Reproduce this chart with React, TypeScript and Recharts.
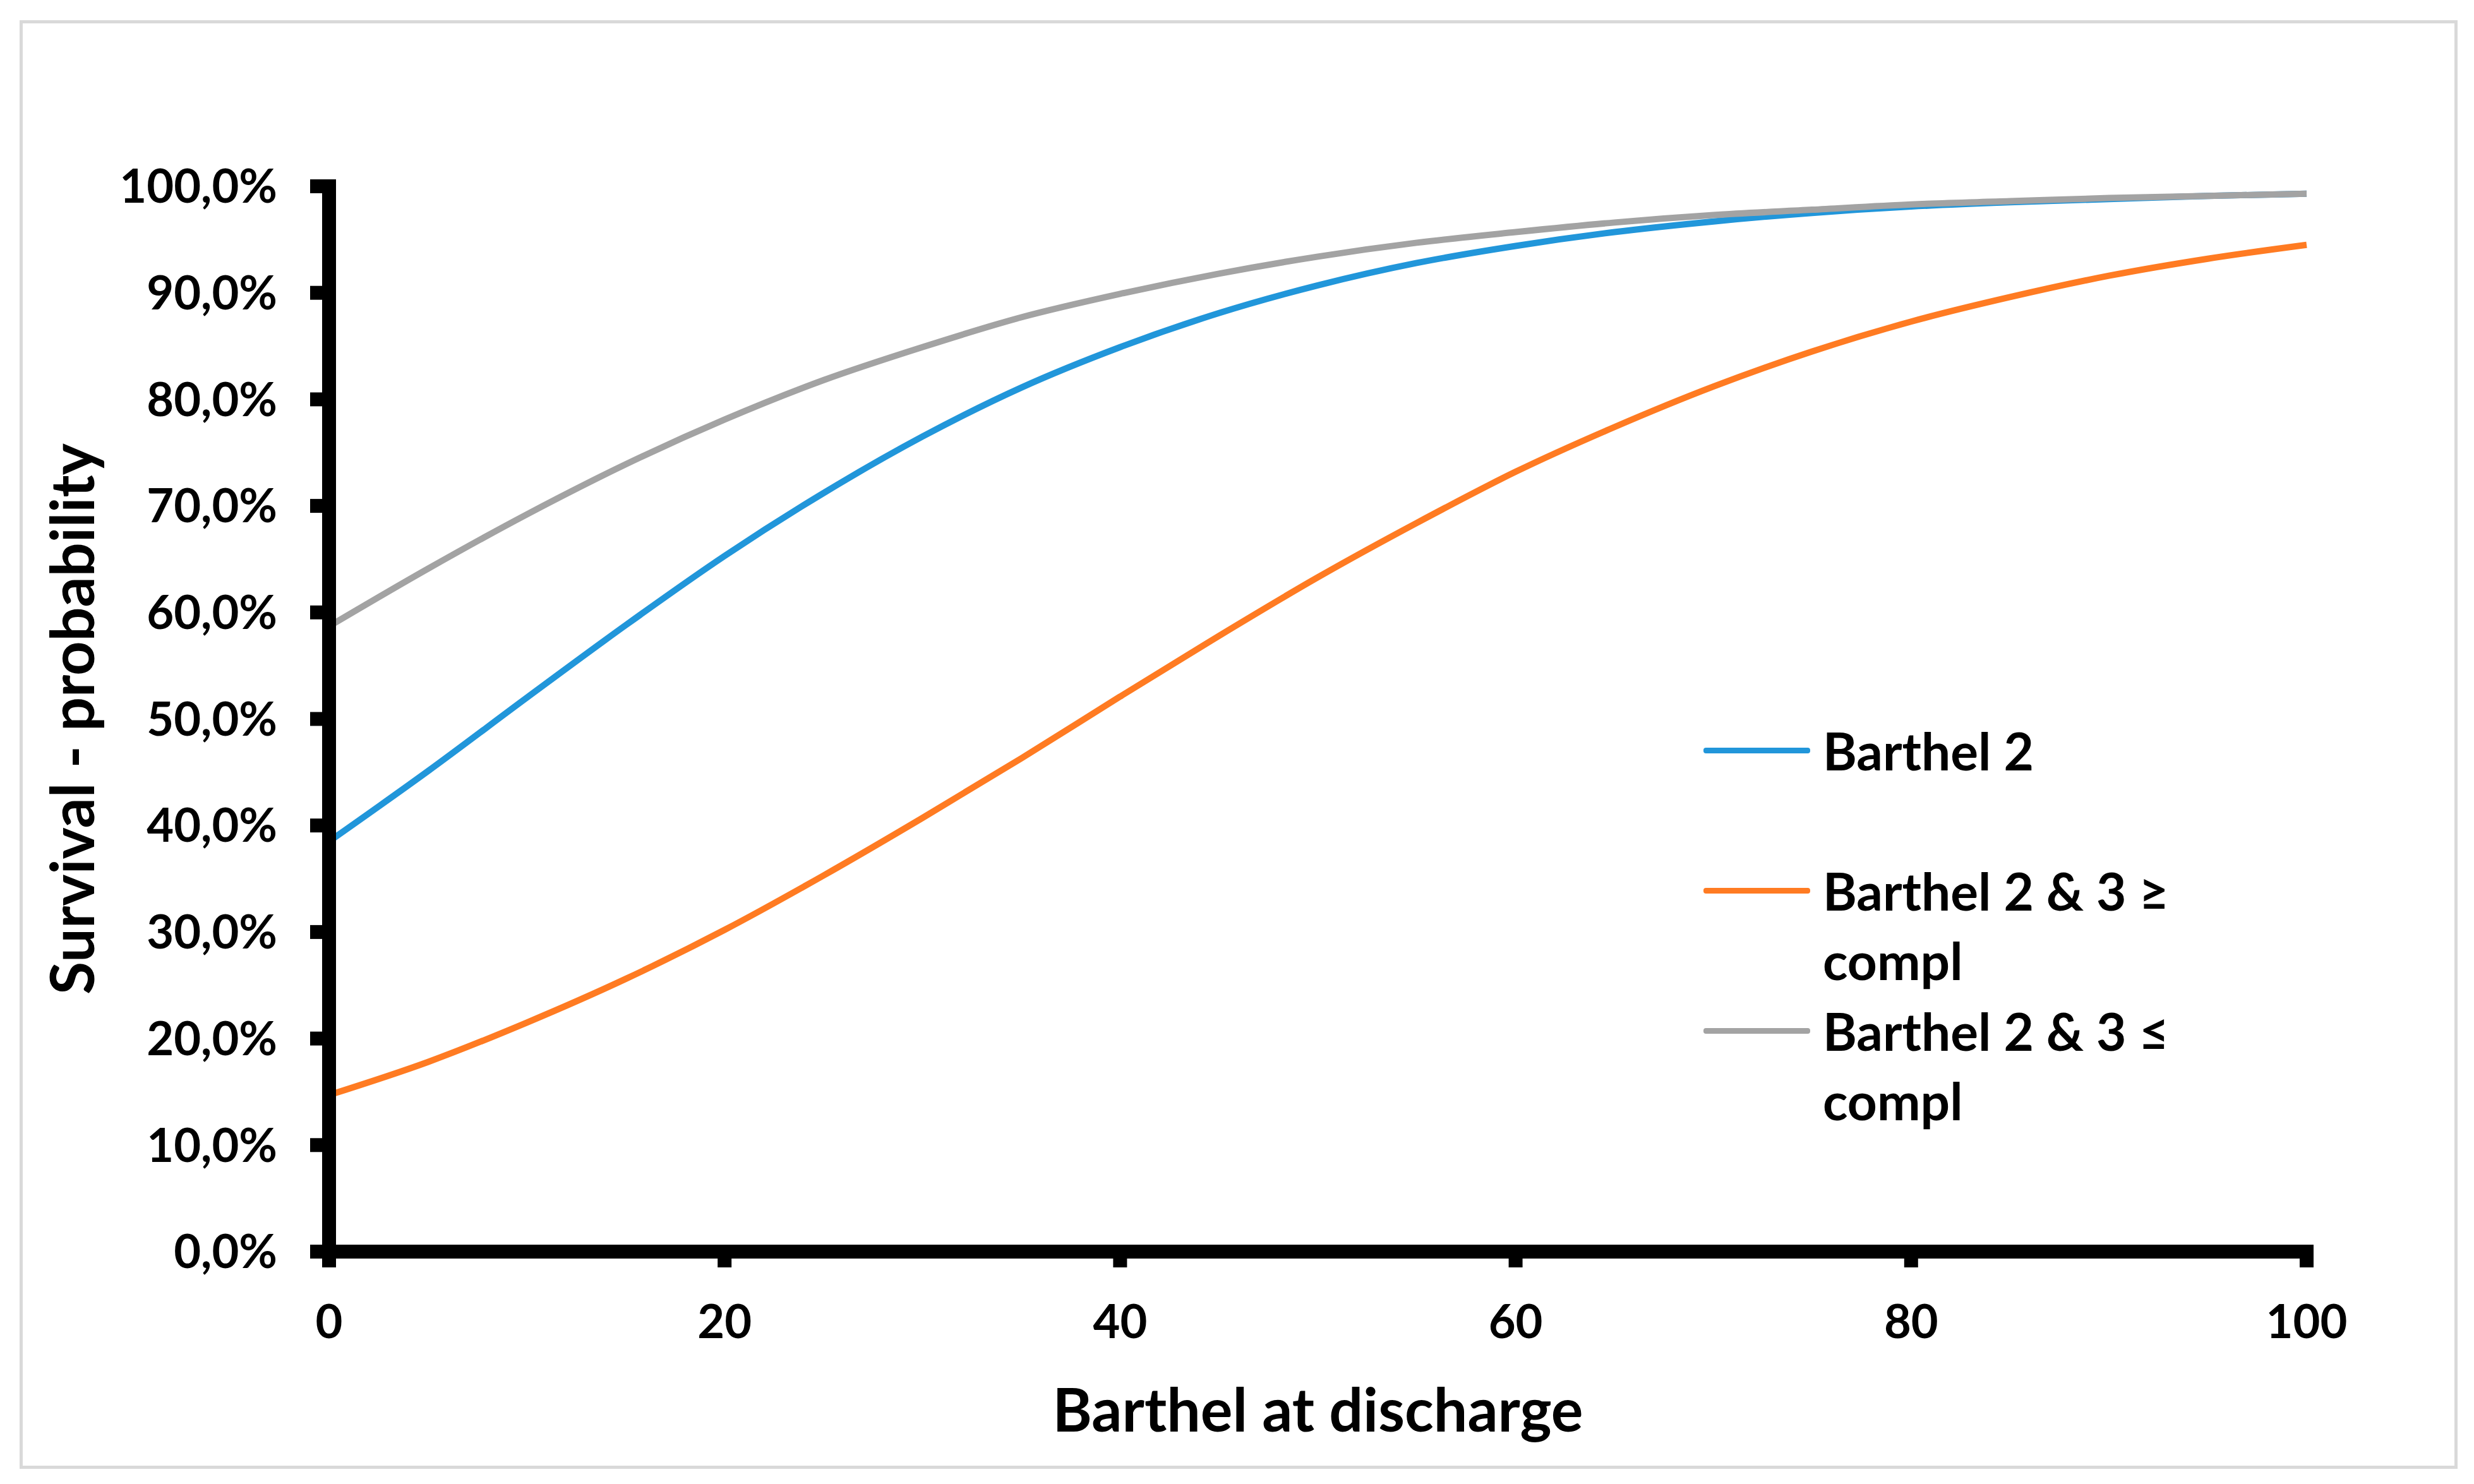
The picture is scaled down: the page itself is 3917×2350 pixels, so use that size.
import { LineChart, Line, XAxis, YAxis, Legend } from 'recharts'

const FONT = 'Lato, "Liberation Sans", sans-serif'

// Barthel score at discharge (x axis)
const barthelScores = [0, 5, 10, 15, 20, 25, 30, 35, 40, 45, 50, 55, 60, 65, 70, 75, 80, 85, 90, 95, 100]

// survival probability in %
const barthel2 = [38.5, 45.1, 52.0, 58.8, 65.3, 71.2, 76.5, 81.1, 84.9, 88.1, 90.7, 92.8, 94.4, 95.7, 96.7, 97.5, 98.1, 98.5, 98.8, 99.1, 99.3]
const barthelGeCompl = [14.7, 17.8, 21.5, 25.6, 30.2, 35.3, 40.7, 46.3, 52.1, 57.8, 63.3, 68.4, 73.2, 77.4, 81.2, 84.5, 87.3, 89.6, 91.6, 93.2, 94.5]
const barthelLeCompl = [58.7, 64.1, 69.2, 73.9, 78.1, 81.8, 84.9, 87.7, 89.9, 91.8, 93.4, 94.7, 95.7, 96.6, 97.3, 97.8, 98.3, 98.6, 98.9, 99.1, 99.3]

const xTicks = [0, 20, 40, 60, 80, 100]
const yTicks = [0, 10, 20, 30, 40, 50, 60, 70, 80, 90, 100]

const data = barthelScores.map((x, i) => ({
  x,
  b2: barthel2[i],
  ge: barthelGeCompl[i],
  le: barthelLeCompl[i]
}))

const COLORS = { blue: '#2196DA', orange: '#FF7B22', gray: '#A3A3A3' }

const W = 3917
const H = 2350
const XAXIS_H = 300
const YAXIS_W = 450

const axisLine = { stroke: '#000', strokeWidth: 22, strokeLinecap: 'square' as const }
const tickLine = { stroke: '#000', strokeWidth: 22 }
const tickStyle = { fill: '#000', fontSize: 74, fontWeight: 700, fontFamily: FONT }

function renderLegend(props: any) {
  const { payload } = props
  return (
    <div style={{ fontFamily: FONT, fontWeight: 700, fontSize: 82, color: '#000' }}>
      {payload.map((p: any, i: number) => (
        <div key={i} style={{ display: 'flex', alignItems: 'flex-start', height: 222 }}>
          <div style={{ width: 169, height: 9, background: p.color, marginTop: 51, borderRadius: 4 }} />
          <div style={{ marginLeft: 20, width: 620, lineHeight: '110px' }}>{p.value}</div>
        </div>
      ))}
    </div>
  )
}

function XTitle(props: any) {
  const { viewBox } = props
  return (
    <text x={viewBox.x + viewBox.width / 2} y={2267} textAnchor="middle"
      fontFamily={FONT} fontWeight={700} fontSize={95} fill="#000">
      Barthel at discharge
    </text>
  )
}

function YTitle(props: any) {
  const { viewBox } = props
  const cx = 112
  const cy = viewBox.y + viewBox.height / 2
  return (
    <text x={cx} y={cy} transform={`rotate(-90 ${cx} ${cy})`} textAnchor="middle" dominantBaseline="central"
      fontFamily={FONT} fontWeight={700} fontSize={95} fill="#000">
      Survival - probability
    </text>
  )
}

export default function App() {
  return (
    <div style={{ position: 'absolute', left: 0, top: 0, width: W, height: H, background: '#fff' }}>
      <div style={{
        position: 'absolute', left: 31, top: 32, width: 3860, height: 2294,
        border: '5px solid #D9D9D9', boxSizing: 'border-box'
      }} />
      <div style={{ position: 'absolute', left: 0, top: 0 }}>
        <LineChart width={W} height={H} data={data}
          margin={{ top: 295, right: 265, bottom: H - 1982 - XAXIS_H, left: 521 - YAXIS_W }}>
          <XAxis type="number" dataKey="x" domain={[0, 100]} ticks={xTicks} height={XAXIS_H}
            axisLine={axisLine} tickLine={tickLine} tickSize={25} tickMargin={59} tick={tickStyle}
            label={{ content: XTitle }} />
          <YAxis type="number" domain={[0, 100]} ticks={yTicks} width={YAXIS_W}
            axisLine={axisLine} tickLine={tickLine} tickSize={30} tickMargin={52} tick={tickStyle}
            tickFormatter={(v: number) => `${v.toFixed(1).replace('.', ',')}%`}
            label={{ content: YTitle }} />
          <Legend layout="vertical" align="center" verticalAlign="middle" content={renderLegend}
            itemSorter="dataKey"
            wrapperStyle={{ position: 'absolute', left: 2697, top: 1133, width: 900 }} />
          <Line dataKey="b2" name="Barthel 2" type="monotone" stroke={COLORS.blue} strokeWidth={10}
            dot={false} isAnimationActive={false} />
          <Line dataKey="ge" name="Barthel 2 & 3 ≥ compl" type="monotone" stroke={COLORS.orange} strokeWidth={10}
            dot={false} isAnimationActive={false} />
          <Line dataKey="le" name="Barthel 2 & 3 ≤ compl" type="monotone" stroke={COLORS.gray} strokeWidth={10}
            dot={false} isAnimationActive={false} />
        </LineChart>
      </div>
    </div>
  )
}
